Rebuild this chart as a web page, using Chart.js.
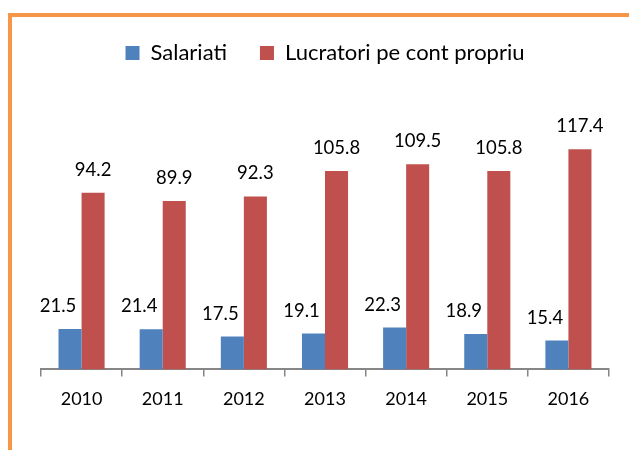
<!DOCTYPE html>
<html><head><meta charset="utf-8">
<script src="https://cdn.jsdelivr.net/npm/chart.js@4.4.1/dist/chart.umd.min.js"></script>
<style>
html,body{margin:0;padding:0;background:#fff;}
#wrap{position:relative;width:629px;height:450px;overflow:hidden;}
#frame{position:absolute;left:8px;top:13px;width:700px;height:500px;border-top:4px solid #F79646;border-left:4px solid #F79646;pointer-events:none;}
canvas{position:absolute;left:0;top:0;}
</style></head>
<body><div id="wrap"><canvas id="c" width="629" height="450"></canvas><div id="frame"></div></div>
<script>
const categories = ['2010','2011','2012','2013','2014','2015','2016'];
const salariati = [21.5, 21.4, 17.5, 19.1, 22.3, 18.9, 15.4];
const lucratori = [94.2, 89.9, 92.3, 105.8, 109.5, 105.8, 117.4];
const seriesNames = ['Salariati', 'Lucratori pe cont propriu'];

const FONT = 'Lato';
const labelPlugin = {
  id:'vals',
  afterDatasetsDraw(chart){
    const ctx = chart.ctx;
    ctx.save();
    ctx.font = '18.5px ' + FONT;
    ctx.fillStyle = '#000';
    ctx.textAlign = 'center';
    ctx.textBaseline = 'alphabetic';
    chart.data.datasets.forEach((ds, di) => {
      chart.getDatasetMeta(di).data.forEach((bar, i) => {
        const dx = di === 0 ? -12 : 0;
        ctx.fillText(ds.data[i].toFixed(1), bar.x + dx, bar.y - 17);
      });
    });
    ctx.restore();
  }
};
const legendSpace = {
  id:'legendSpace',
  beforeInit(chart){
    const lg = chart.legend;
    if (!lg) return;
    const orig = lg.fit;
    lg.fit = function(){ orig.call(this); this.height += 33; };
  }
};

new Chart(document.getElementById('c'), {
  type:'bar',
  data:{
    labels: categories,
    datasets:[
      {label: seriesNames[0], data: salariati, backgroundColor:'#4F81BD'},
      {label: seriesNames[1], data: lucratori, backgroundColor:'#C0504D'}
    ]
  },
  options:{
    responsive:false, animation:false,
    layout:{padding:{left:41,right:20,top:9,bottom:28}},
    datasets:{bar:{barPercentage:1, categoryPercentage:0.568}},
    plugins:{
      legend:{display:true, position:'top', labels:{boxWidth:14, boxHeight:14, padding:33, color:'#000', font:{family:FONT, size:22}}},
      tooltip:{enabled:false}
    },
    scales:{
      y:{display:false, min:0, max:140},
      x:{
        grid:{display:true, drawOnChartArea:false, drawTicks:true, tickLength:7, color:'#868686', lineWidth:1.5},
        border:{display:true, color:'#868686', width:2},
        ticks:{color:'#000', font:{family:FONT, size:18}, padding:12}
      }
    }
  },
  plugins:[legendSpace, labelPlugin]
});
</script></body></html>
